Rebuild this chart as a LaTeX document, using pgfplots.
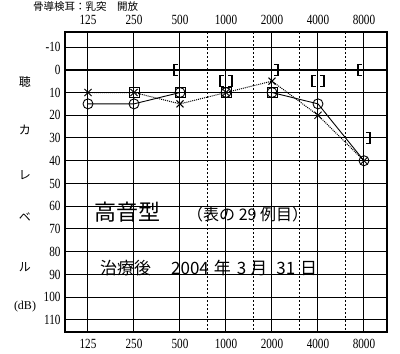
\documentclass[border=0pt]{standalone}
\usepackage{fontspec}
\setmainfont{Liberation Serif}
\newfontfamily\jp{Noto Sans CJK JP}
\usepackage{graphicx}
\usepackage{pgfplots}
\pgfplotsset{compat=1.18}
\newcommand{\cn}[1]{\scalebox{0.8}[1]{#1}}
\pgfdeclareplotmark{lbr}{%
 \pgfpathmoveto{\pgfqpoint{-2pt}{5.5pt}}\pgfpathlineto{\pgfqpoint{-6pt}{5.5pt}}%
 \pgfpathlineto{\pgfqpoint{-6pt}{-5.5pt}}\pgfpathlineto{\pgfqpoint{-2pt}{-5.5pt}}\pgfusepathqstroke}
\pgfdeclareplotmark{rbr}{%
 \pgfpathmoveto{\pgfqpoint{2pt}{5.5pt}}\pgfpathlineto{\pgfqpoint{6pt}{5.5pt}}%
 \pgfpathlineto{\pgfqpoint{6pt}{-5.5pt}}\pgfpathlineto{\pgfqpoint{2pt}{-5.5pt}}\pgfusepathqstroke}
\begin{document}
\begin{tikzpicture}
\useasboundingbox (0pt,0pt) rectangle (400pt,354pt);
\clip (0pt,0pt) rectangle (400pt,354pt);
\fill[white] (0pt,0pt) rectangle (400pt,354pt);
\node[font=\jp\fontsize{10.5}{11}\selectfont, anchor=north west, inner sep=0pt] at (33pt,353pt) {骨導検耳：乳突　開放};
\begin{axis}[
  at={(65pt,22pt)}, anchor=south west,
  scale only axis, width=322pt, height=300pt,
  xmin=-0.5, xmax=6.5, ymin=-16.6, ymax=115.3, y dir=reverse,
  xtick={0,...,6}, xticklabels={\cn{125},\cn{250},\cn{500},\cn{1000},\cn{2000},\cn{4000},\cn{8000}},
  minor xtick={2.585,3.585,4.585,5.585},
  ytick={-10,0,...,110},
  yticklabel={\cn{\pgfmathprintnumber{\tick}}},
  grid=both,
  major grid style={black, line width=1pt},
  minor grid style={black, dashed, dash pattern=on 2pt off 2pt, line width=0.8pt},
  major tick length=0pt, minor tick length=0pt,
  axis line style={black, line width=1.5pt},
  /pgf/number format/assume math mode=true,
  tick label style={font=\fontsize{14}{14}\selectfont, black},
  xticklabel style={anchor=base, yshift=-16pt},
  yticklabel style={anchor=east, xshift=-1pt},
  clip=false,
]
\addplot[black, line width=2.5pt] coordinates {(-0.5,0) (6.5,0)};
% right air (O, solid)
\addplot[black, line width=0.9pt, mark=o, mark size=5pt, mark options={solid, line width=0.9pt, fill=none}]
  coordinates {(0,15) (1,15) (2,10) (3,10) (4,10) (5,15) (6,40)};
% left air (X, dotted)
\addplot[black, line width=1pt, densely dotted, mark=x, mark size=5pt, mark options={solid, line width=0.9pt}]
  coordinates {(0,10) (1,10) (2,15) (3,10) (4,5) (5,20) (6,40)};
% squares
\addplot[only marks, black, mark=square, mark size=5pt, mark options={line width=0.9pt}]
  coordinates {(1,10) (2,10) (3,10) (4,10)};
% right bone [
\addplot[only marks, black, mark=lbr, mark options={line width=1.2pt}]
  coordinates {(2,0) (3,5) (5,5) (6,0)};
% left bone ]
\addplot[only marks, black, mark=rbr, mark options={line width=1.2pt}]
  coordinates {(3,5) (4,0) (5,5) (6,30)};
\node[anchor=base, yshift=8pt, font=\fontsize{14}{14}\selectfont] at (axis cs:0,-16.6) {\cn{125}};
\node[anchor=base, yshift=8pt, font=\fontsize{14}{14}\selectfont] at (axis cs:1,-16.6) {\cn{250}};
\node[anchor=base, yshift=8pt, font=\fontsize{14}{14}\selectfont] at (axis cs:2,-16.6) {\cn{500}};
\node[anchor=base, yshift=8pt, font=\fontsize{14}{14}\selectfont] at (axis cs:3,-16.6) {\cn{1000}};
\node[anchor=base, yshift=8pt, font=\fontsize{14}{14}\selectfont] at (axis cs:4,-16.6) {\cn{2000}};
\node[anchor=base, yshift=8pt, font=\fontsize{14}{14}\selectfont] at (axis cs:5,-16.6) {\cn{4000}};
\node[anchor=base, yshift=8pt, font=\fontsize{14}{14}\selectfont] at (axis cs:6,-16.6) {\cn{8000}};
\end{axis}
\node[font=\jp\fontsize{12}{12}\selectfont] at (25pt,272pt) {聴};
\node[font=\jp\fontsize{12}{12}\selectfont] at (25pt,224pt) {カ};
\node[font=\jp\fontsize{12}{12}\selectfont] at (25pt,179pt) {レ};
\node[font=\jp\fontsize{12}{12}\selectfont] at (25pt,137pt) {ベ};
\node[font=\jp\fontsize{12}{12}\selectfont] at (25pt,87pt) {ル};
\node[font=\fontsize{12}{12}\selectfont] at (25pt,47pt) {(dB)};
\node[font=\jp\fontsize{22}{22}\selectfont, anchor=base west, inner sep=0pt] at (94pt,133pt) {高音型};
\node[font=\jp\fontsize{16}{16}\selectfont, anchor=base west, inner sep=0pt] at (187pt,133pt) {（表の 29 例目）};
\node[font=\jp\fontsize{17}{17}\selectfont, anchor=base west, inner sep=0pt] at (100pt,79pt) {治療後\hspace{20pt}2004\hspace{5pt}年\hspace{6pt}3\hspace{4pt}月\hspace{9pt}31\hspace{5pt}日};
\end{tikzpicture}
\end{document}
